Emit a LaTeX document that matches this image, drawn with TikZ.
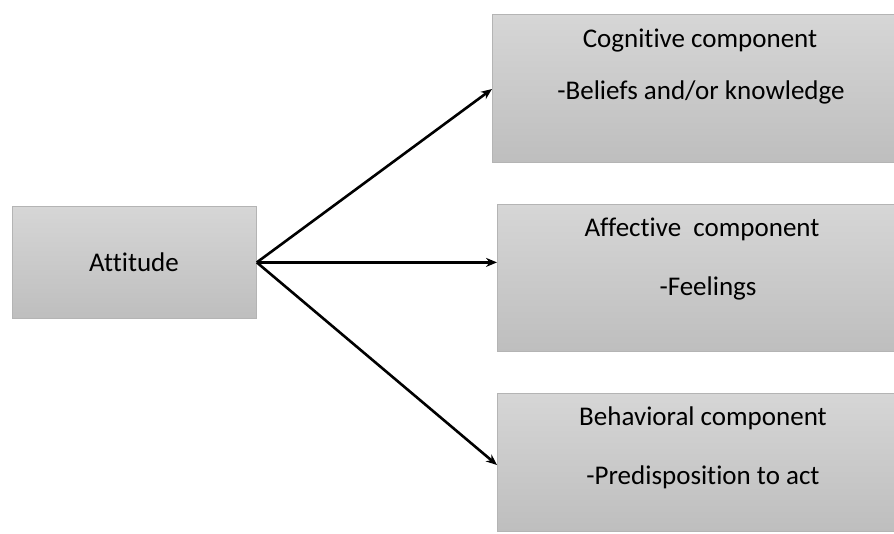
\documentclass[tikz,border=0pt]{standalone}
\usepackage{fontspec}
\setmainfont{Carlito}[Ligatures={NoCommon}]
\usetikzlibrary{arrows.meta}
\definecolor{boxtop}{HTML}{D6D6D6}
\definecolor{boxbot}{HTML}{BEBEBE}
\definecolor{boxline}{HTML}{B4B4B4}
\tikzset{
  graybox/.style={draw=boxline, line width=0.8pt, top color=boxtop, bottom color=boxbot, inner sep=0pt},
  lbl/.style={anchor=base, font=\fontsize{27}{32}\selectfont, inner sep=0pt},
  conn/.style={line width=2.6pt, -{Stealth[length=11pt,width=9pt]}}
}
\begin{document}
\begin{tikzpicture}[x=1pt,y=-1pt]
\useasboundingbox (0,0) rectangle (894,533);
\clip (0,0) rectangle (894,533);
\node[graybox, minimum width=244pt, minimum height=112pt, anchor=north west] (att) at (12,206) {};
\node[graybox, minimum width=420pt, minimum height=148pt, anchor=north west] (cog) at (492,14) {};
\node[graybox, minimum width=415pt, minimum height=147pt, anchor=north west] (aff) at (497,204) {};
\node[graybox, minimum width=415pt, minimum height=138pt, anchor=north west] (beh) at (497,393) {};
\node[lbl] (tatt) at (134,271) {Attitude};
\node[lbl] (tcog1) at (700,47) {Cognitive component};
\node[lbl] (tcog2) at (701,99) {-Beliefs and/or knowledge};
\node[lbl] (taff1) at (702,236) {Affective\ \ component};
\node[lbl] (taff2) at (708,295) {-Feelings};
\node[lbl] (tbeh1) at (703,425) {Behavioral component};
\node[lbl] (tbeh2) at (703,484) {-Predisposition to act};
\coordinate (cogin) at (cog.north west |- 0,89);
\coordinate (affin) at (aff.west |- att.east);
\coordinate (behin) at (beh.north west |- 0,465);
\draw[conn] (att.east) -- (cogin);
\draw[conn] (att.east) -- (affin);
\draw[conn] (att.east) -- (behin);
\end{tikzpicture}
\end{document}
